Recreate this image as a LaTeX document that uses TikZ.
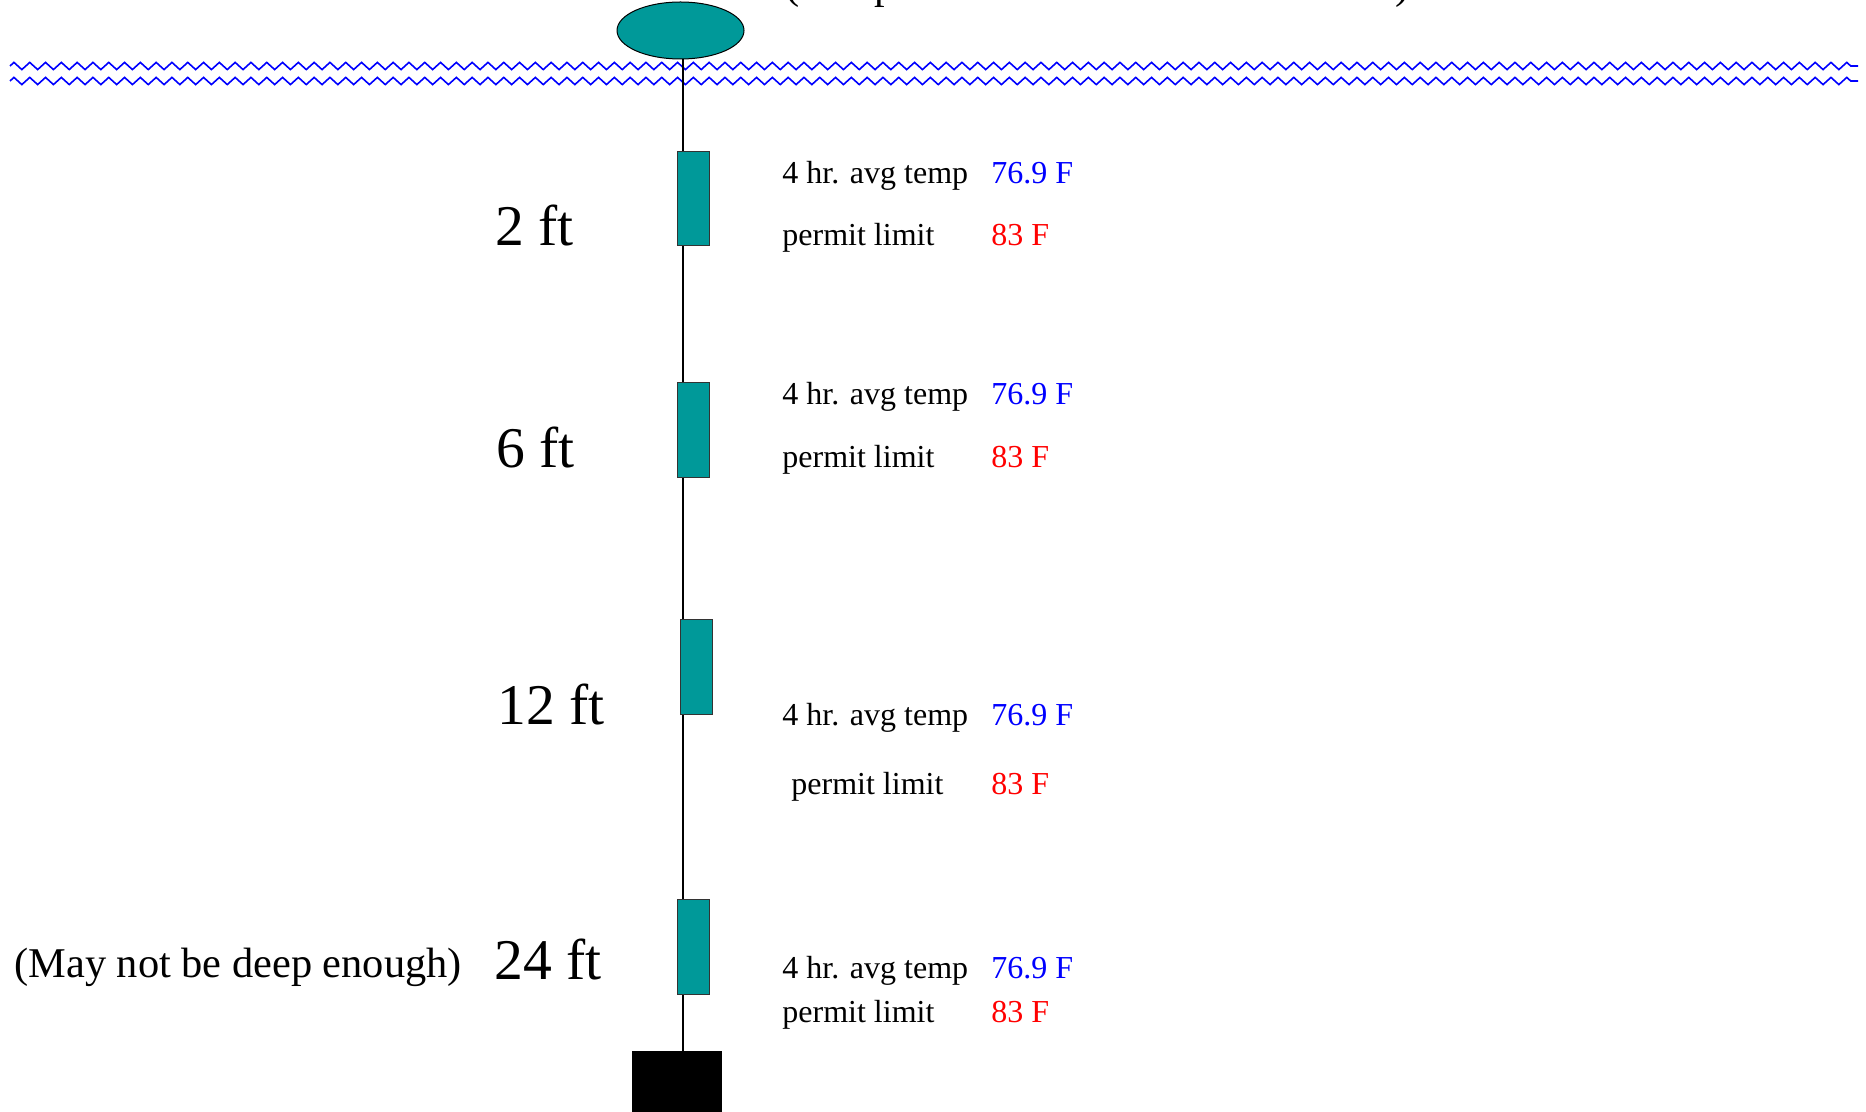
\documentclass[tikz,border=0pt]{standalone}
\usepackage{fontspec}
\setmainfont{Liberation Serif}
\usetikzlibrary{shapes.geometric,decorations.pathmorphing}
\definecolor{teal}{RGB}{0,153,153}
\begin{document}
\begin{tikzpicture}[x=0.5pt,y=-0.5pt,
  sensor/.style={draw=black!80,line width=0.5pt,fill=teal,minimum width=16.2pt,minimum height=47.3pt,inner sep=0pt},
  buoy/.style={ellipse,draw=black,line width=0.5pt,fill=teal,minimum width=63.5pt,minimum height=28.5pt,inner sep=0pt},
  anchorbox/.style={fill=black,minimum width=45pt,minimum height=40pt,inner sep=0pt,anchor=north},
  wave/.style={draw=blue,line width=0.8pt,decorate,decoration={zigzag,segment length=7.9pt,amplitude=1.8pt}},
  rope/.style={draw=black,line width=1pt},
  depth/.style={inner sep=0pt,anchor=base west,font=\fontsize{28.8pt}{32pt}\selectfont},
  lbl/.style={inner sep=0pt,anchor=base west,font=\fontsize{16pt}{18pt}\selectfont},
  avg/.style={lbl,text=blue},
  lim/.style={lbl,text=red},
  note/.style={inner sep=0pt,anchor=base west,font=\fontsize{21.2pt}{24pt}\selectfont}]
\useasboundingbox (0,0) rectangle (1866,1112);
\clip (0,0) rectangle (1866,1112);
\fill[white] (0,0) rectangle (1866,1112);

% cut-off title at the top
\node[note] (title) at (785,-1) {\spaceskip=0.48em (Temp sensors on the anchor line)};

% water surface
\coordinate (w1a) at (10,66);
\coordinate (w1b) at (1858,66);
\coordinate (w2a) at (10,81);
\coordinate (w2b) at (1858,81);
\draw[wave] (w1a) -- (w1b);
\draw[wave] (w2a) -- (w2b);

% buoy, anchor, line
\node[buoy] (buoy) at (680.5,30.5) {};
\node[anchorbox] (anchor) at (677,1051) {};
\coordinate (lineref) at (683,0);
\draw[rope] (buoy.south -| lineref) -- (anchor.north -| lineref);

% sensors
\node[sensor] (s1) at (693.5,198.7) {};
\node[sensor] (s2) at (693.5,430) {};
\node[sensor] (s3) at (696.5,667) {};
\node[sensor] (s4) at (693.5,947) {};

% depth labels
\node[depth] (d1) at (495,246) {2 ft};
\node[depth] (d2) at (496,467) {6 ft};
\node[depth] (d3) at (497,724) {12 ft};
\node[depth] (d4) at (494,979) {24 ft};
\node[note] (deepnote) at (14,977) {(May not be deep enough)};

% readings
\node[lbl] (a1) at (782,184) {4 hr. avg temp};
\node[avg] (v1) at (991,184) {76.9 F};
\node[lbl] (p1) at (782,246) {permit limit};
\node[lim] (l1) at (991,246) {83 F};

\node[lbl] (a2) at (782,404) {4 hr. avg temp};
\node[avg] (v2) at (991,404) {76.9 F};
\node[lbl] (p2) at (782,467) {permit limit};
\node[lim] (l2) at (991,467) {83 F};

\node[lbl] (a3) at (782,725) {4 hr. avg temp};
\node[avg] (v3) at (991,725) {76.9 F};
\node[lbl] (p3) at (791,794) {permit limit};
\node[lim] (l3) at (991,794) {83 F};

\node[lbl] (a4) at (782,978) {4 hr. avg temp};
\node[avg] (v4) at (991,978) {76.9 F};
\node[lbl] (p4) at (782,1022) {permit limit};
\node[lim] (l4) at (991,1022) {83 F};
\end{tikzpicture}
\end{document}
